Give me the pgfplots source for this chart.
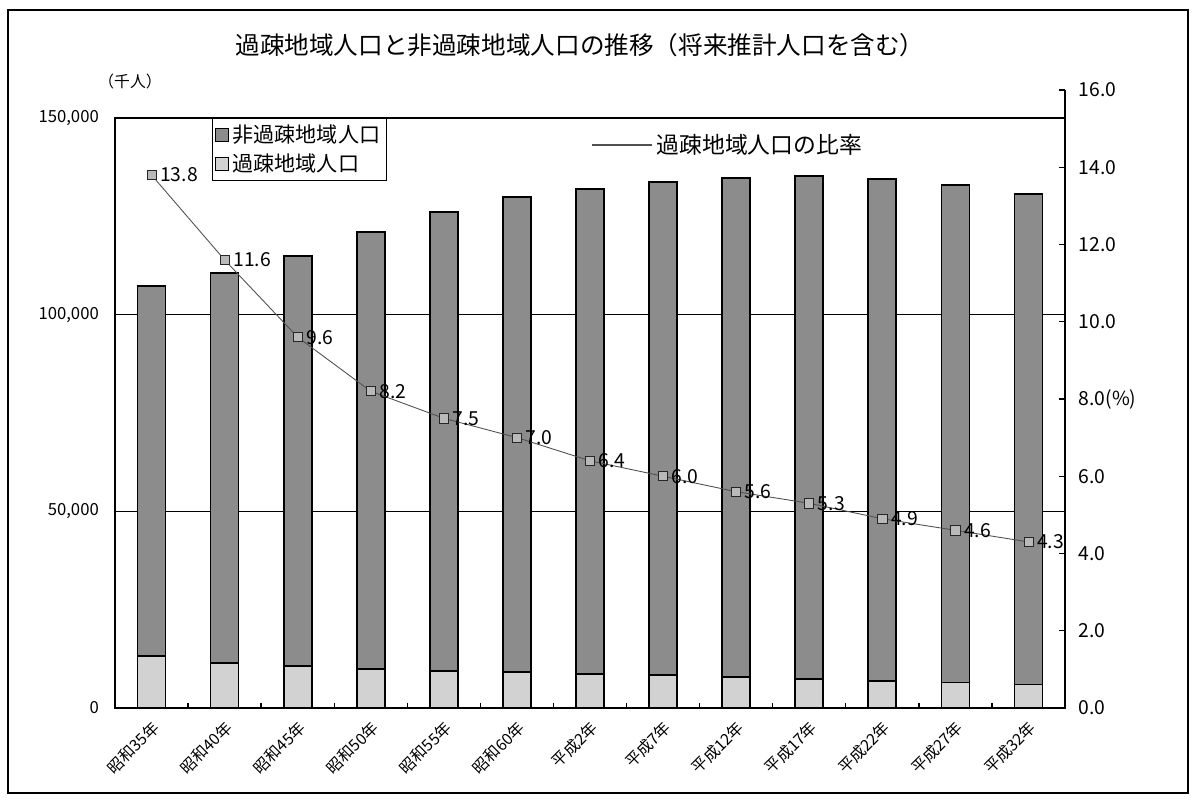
\documentclass[border=0pt]{standalone}
\usepackage{pgfplots}
\usepackage{pgfplotstable}
\pgfplotsset{compat=1.18}
\usepackage{fontspec}
\setmainfont{Noto Sans CJK JP}
\definecolor{darkbar}{RGB}{140,140,140}
\definecolor{lightbar}{RGB}{210,210,210}
\definecolor{linegray}{RGB}{80,80,80}
\pgfplotstableread{
x lower upper ratio rlabel
0 13200 94100 13.8 13.8
1 11500 99100 11.6 11.6
2 10700 104200 9.6 9.6
3 9900 111100 8.2 8.2
4 9500 116600 7.5 7.5
5 9200 120700 7.0 7.0
6 8600 123400 6.4 6.4
7 8400 125300 6.0 6.0
8 7800 127000 5.6 5.6
9 7300 128000 5.3 5.3
10 6800 127700 4.9 4.9
11 6500 126500 4.6 4.6
12 6000 124700 4.3 4.3
}\data
\begin{document}
\begin{tikzpicture}
\path (0,0) rectangle (23.94,16.2);
\draw[line width=0.8pt] (0.16,0.34) rectangle (23.76,16.0);
\node[font=\fontsize{14}{16}\selectfont] at (11.6,15.3) {過疎地域人口と非過疎地域人口の推移（将来推計人口を含む）};
\node[font=\fontsize{9}{10}\selectfont] at (2.6,14.56) {（千人）};
\begin{axis}[
  scale only axis, width=19cm, height=11.8cm,
  at={(2.30cm,2.04cm)}, anchor=south west,
  ybar stacked, bar width=0.56cm,
  xmin=-0.5, xmax=12.5, ymin=0, ymax=150000,
  scaled y ticks=false,
  xtick={0,...,12},
  xticklabels={昭和35年,昭和40年,昭和45年,昭和50年,昭和55年,昭和60年,平成2年,平成7年,平成12年,平成17年,平成22年,平成27年,平成32年},
  major x tick style={draw=none},
  minor xtick={0.5,1.5,...,11.5}, minor tick length=0.1cm,
  xtick pos=lower, ytick pos=left, tick align=inside,
  minor x tick style={black, line width=0.8pt},
  x tick label style={rotate=45, anchor=east, font=\fontsize{9}{10}\selectfont, yshift=-0.3cm, xshift=-0.05cm},
  ytick={0,50000,100000,150000},
  yticklabels={0,{50,000},{100,000},{150,000}},
  ymajorgrids, grid style={black, line width=0.6pt},
  major y tick style={draw=none},
  y tick label style={font=\fontsize{9.5}{10}\selectfont, xshift=-0.2cm},
  axis line style={black, line width=0.8pt},
  reverse legend,
  legend style={at={(0.102,1.0)}, anchor=north west, draw=black, line width=0.6pt,
    font=\fontsize{12}{14}\selectfont, inner sep=1.5pt, row sep=1pt, cells={anchor=west}},
  legend image code/.code={\draw[#1, line width=0.6pt] (0cm,-0.13cm) rectangle (0.26cm,0.13cm);},
]
\addplot[fill=lightbar, draw=black, line width=1pt] table[x=x, y=lower] {\data};
\addlegendentry{過疎地域人口}
\addplot[fill=darkbar, draw=black, line width=1pt] table[x=x, y=upper] {\data};
\addlegendentry{非過疎地域人口}
\end{axis}
\begin{axis}[
  scale only axis, width=19cm, height=12.36cm,
  at={(2.30cm,2.04cm)}, anchor=south west,
  xmin=-0.5, xmax=12.5, ymin=0, ymax=16,
  axis x line=none, axis y line*=right,
  y axis line style={-, black, line width=1pt},
  tick align=inside, major tick length=0.12cm,
  ytick={0,2,...,16},
  yticklabels={0.0,2.0,4.0,6.0,8.0(\%),10.0,12.0,14.0,16.0},
  y tick label style={font=\fontsize{11}{12}\selectfont, anchor=west, xshift=0.15cm},
  major y tick style={black, line width=0.8pt},
  legend style={at={(0.495,0.911)}, anchor=west, draw=none, fill=none,
    font=\fontsize{13}{15}\selectfont},
  legend image code/.code={\draw[linegray, line width=1.2pt] (0cm,0cm) -- (1.2cm,0cm);},
]
\addplot[linegray, line width=0.5pt, mark=square*, mark size=2.6pt,
  mark options={fill=gray!55, draw=gray!30!black, line width=0.4pt},
  point meta=explicit symbolic, nodes near coords,
  nodes near coords style={anchor=west, xshift=0.05cm, font=\fontsize{11}{12}\selectfont, text=black}]
  table[x=x, y=ratio, meta=rlabel] {\data};
\addlegendentry{過疎地域人口の比率}
\end{axis}
\end{tikzpicture}
\end{document}
